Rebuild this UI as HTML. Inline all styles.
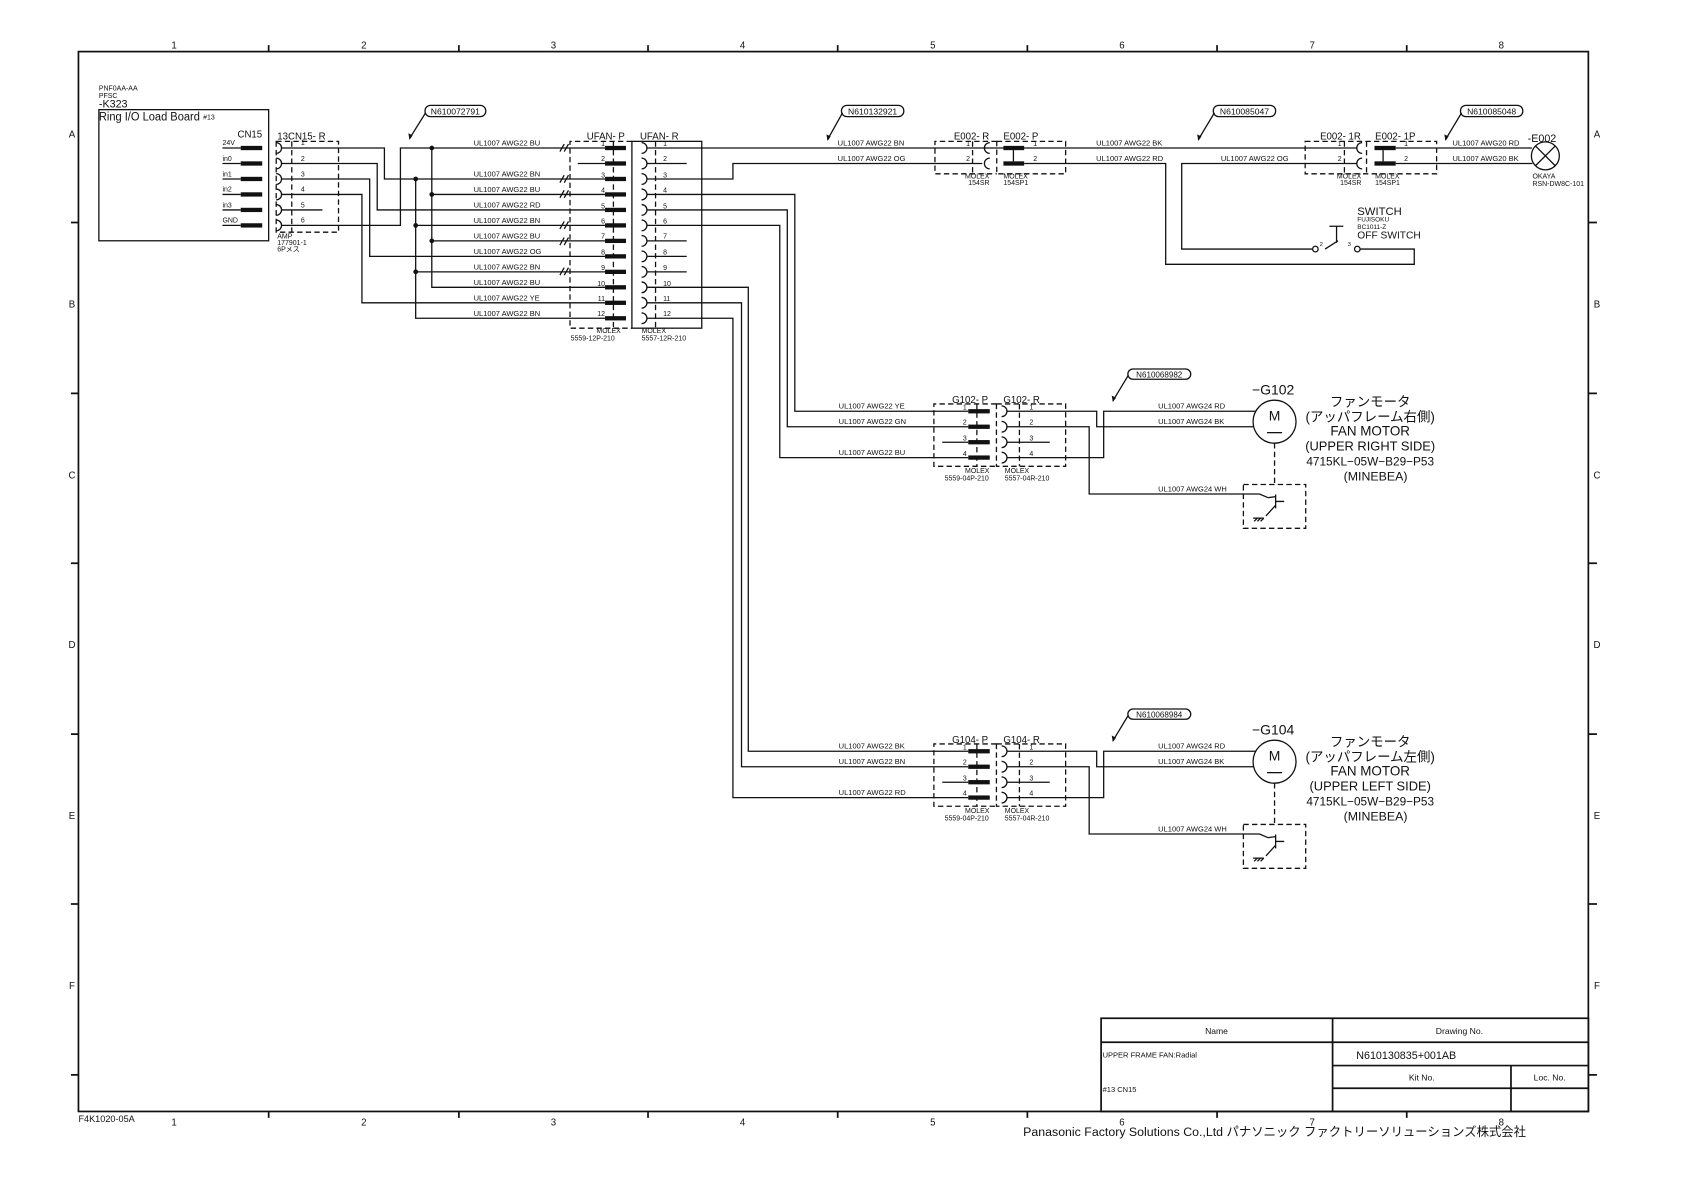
<!DOCTYPE html>
<html><head><meta charset="utf-8"><style>
html,body{margin:0;padding:0;background:#fff;}
svg{display:block;}
text{font-family:"Liberation Sans Narrow","Liberation Sans","Noto Sans CJK JP",sans-serif;fill:#111;}
.w{stroke:#111;stroke-width:1.2;fill:none;}
.d{stroke:#111;stroke-width:1.2;fill:none;stroke-dasharray:5,3;}
.f{stroke:#111;stroke-width:1.6;fill:none;}
.s{font-size:6.5px;}
.wl{font-size:7px;}
</style></head><body>
<svg width="1684" height="1191" viewBox="0 0 1567 1108" preserveAspectRatio="none" xmlns="http://www.w3.org/2000/svg">
<rect x="73" y="48" width="1405" height="986" class="f"/>
<g class="f">
<path d="M250,42V48M427,42V48M603,42V48M779.5,42V48M956,42V48M1132.5,42V48M1309,42V48"/>
<path d="M250,1034V1040M427,1034V1040M603,1034V1040M779.5,1034V1040M956,1034V1040M1132.5,1034V1040M1309,1034V1040"/>
<path d="M66,207H73M66,366H73M66,524H73M66,683H73M66,841H73M66,1000H73"/>
<path d="M1478,207H1486M1478,366H1486M1478,524H1486M1478,683H1486M1478,841H1486M1478,1000H1486"/>
</g>
<g font-size="9" text-anchor="middle">
<text x="162" y="45">1</text><text x="338.5" y="45">2</text><text x="515" y="45">3</text><text x="691" y="45">4</text><text x="868" y="45">5</text><text x="1044" y="45">6</text><text x="1221" y="45">7</text><text x="1397" y="45">8</text>
<text x="162" y="1047">1</text><text x="338.5" y="1047">2</text><text x="515" y="1047">3</text><text x="691" y="1047">4</text><text x="868" y="1047">5</text><text x="1044" y="1047">6</text><text x="1221" y="1047">7</text><text x="1397" y="1047">8</text>
<text x="67" y="128">A</text><text x="67" y="286">B</text><text x="67" y="445">C</text><text x="67" y="603">D</text><text x="67" y="762">E</text><text x="67" y="920">F</text>
<text x="1486" y="128">A</text><text x="1486" y="286">B</text><text x="1486" y="445">C</text><text x="1486" y="603">D</text><text x="1486" y="762">E</text><text x="1486" y="920">F</text>
</g>
<text x="73" y="1044" font-size="8.5">F4K1020-05A</text>

<g class="f">
<rect x="1024.6" y="947.3" width="453.4" height="86.7"/>
<path d="M1024.6,969.6H1478M1240,947.3V1034M1240,991.3H1478M1240,1012.4H1478M1406,991.3V1034"/>
</g>
<text x="1132" y="962" font-size="8" text-anchor="middle">Name</text>
<text x="1358" y="962" font-size="8" text-anchor="middle">Drawing No.</text>
<text x="1026" y="984" font-size="7">UPPER FRAME FAN:Radial</text>
<text x="1262" y="985" font-size="10">N610130835+001AB</text>
<text x="1323" y="1005" font-size="8" text-anchor="middle">Kit No.</text>
<text x="1442" y="1005" font-size="8" text-anchor="middle">Loc. No.</text>
<text x="1026" y="1016" font-size="7">#13 CN15</text>
<text x="1420" y="1057" font-size="11.5" text-anchor="end" style="font-family:'Liberation Sans','Noto Sans CJK JP',sans-serif">Panasonic Factory Solutions Co.,Ltd パナソニック ファクトリーソリューションズ株式会社</text>

<text x="92" y="84" font-size="6.5">PNF0AA-AA</text>
<text x="92" y="91" font-size="6.5">PFSC</text>
<text x="92" y="100" font-size="10">-K323</text>
<rect x="92" y="102" width="158" height="122" class="w"/>
<text x="92" y="112" font-size="11.5" textLength="94" lengthAdjust="spacingAndGlyphs">Ring I/O Load Board</text>
<text x="189" y="111" font-size="6.5">#13</text>
<text x="221" y="128" font-size="9">CN15</text>
<g class="w"><path d="M207,137.7H224M207,152.1H224M207,166.5H224M207,180.9H224M207,195.3H224M207,209.7H224"/></g>
<g fill="#111"><rect x="224" y="135.7" width="20" height="4"/><rect x="224" y="150.1" width="20" height="4"/><rect x="224" y="164.5" width="20" height="4"/><rect x="224" y="178.9" width="20" height="4"/><rect x="224" y="193.3" width="20" height="4"/><rect x="224" y="207.7" width="20" height="4"/></g>
<g class="s"><text x="207" y="135">24V</text><text x="207" y="150">in0</text><text x="207" y="164">in1</text><text x="207" y="178">in2</text><text x="207" y="193">in3</text><text x="207" y="207">GND</text></g>

<text x="258" y="130" font-size="9">13CN15- R</text>
<rect x="257" y="131.5" width="58" height="84.5" class="d"/>
<path class="d" d="M271.5,131.5V216"/>
<g class="w">
<path d="M257,132.7A5,5 0 0 1 257,142.7M257,147.1A5,5 0 0 1 257,157.1M257,161.5A5,5 0 0 1 257,171.5M257,175.9A5,5 0 0 1 257,185.9M257,190.3A5,5 0 0 1 257,200.3M257,204.7A5,5 0 0 1 257,214.7"/>
</g>
<g class="s"><text x="280" y="135">1</text><text x="280" y="150">2</text><text x="280" y="164">3</text><text x="280" y="178">4</text><text x="280" y="193">5</text><text x="280" y="207">6</text></g>
<text x="258" y="222" font-size="6.5">AMP</text><text x="258" y="228" font-size="6.5">177901-1</text><text x="258" y="234" font-size="6.5">6Pメス</text>

<g class="w">
<path d="M262,137.7H357.7V166.5H563"/>
<path d="M262,152.1H351V195.3H563"/>
<path d="M262,166.5H344V238.5H563"/>
<path d="M262,180.9H336.8V281.7H563"/>
<path d="M262,195.3H300"/>
<path d="M262,209.7H372.6V137.7H563"/>
<path d="M386.8,166.5V296.1H563M386.8,209.7H563M386.8,252.9H563"/>
<path d="M401.8,137.7V267.3H563M401.8,180.9H563M401.8,224.1H563"/>
<path d="M537.6,152.1H563"/>
<path d="M521,141l4,-7M525,141l4,-7M521,170l4,-7M525,170l4,-7M521,184l4,-7M525,184l4,-7M521,213l4,-7M525,213l4,-7M521,228l4,-7M525,228l4,-7M521,256l4,-7M525,256l4,-7"/>
</g>
<g fill="#111"><circle cx="386.8" cy="166.5" r="2.2"/><circle cx="386.8" cy="209.7" r="2.2"/><circle cx="386.8" cy="252.9" r="2.2"/><circle cx="401.8" cy="137.7" r="2.2"/><circle cx="401.8" cy="180.9" r="2.2"/><circle cx="401.8" cy="224.1" r="2.2"/></g>
<g class="wl">
<text x="440.7" y="135.5">UL1007 AWG22 BU</text>
<text x="440.7" y="164.3">UL1007 AWG22 BN</text>
<text x="440.7" y="178.7">UL1007 AWG22 BU</text>
<text x="440.7" y="193.1">UL1007 AWG22 RD</text>
<text x="440.7" y="207.5">UL1007 AWG22 BN</text>
<text x="440.7" y="221.9">UL1007 AWG22 BU</text>
<text x="440.7" y="236.3">UL1007 AWG22 OG</text>
<text x="440.7" y="250.7">UL1007 AWG22 BN</text>
<text x="440.7" y="265.1">UL1007 AWG22 BU</text>
<text x="440.7" y="279.5">UL1007 AWG22 YE</text>
<text x="440.7" y="293.9">UL1007 AWG22 BN</text>
</g>
<rect x="395.5" y="98" width="56.5" height="10.5" rx="5" class="w"/>
<text x="423.7" y="106.5" font-size="8" text-anchor="middle">N610072791</text>
<path class="w" d="M396,105L381,129"/><path d="M381,130l-1,-6l4,2z" fill="#111"/>

<text x="546" y="130" font-size="9">UFAN- P</text>
<text x="595.5" y="130" font-size="9">UFAN- R</text>
<path class="d" d="M588,131.5H530.4V305.3H588"/>
<path class="d" d="M570.8,131.5V305.3"/>
<rect x="588" y="131.5" width="65" height="173.8" class="w"/>
<path class="d" d="M610,131.5V305.3"/>
<g fill="#111">
<rect x="563" y="135.7" width="19.5" height="4"/><rect x="563" y="150.1" width="19.5" height="4"/><rect x="563" y="164.5" width="19.5" height="4"/><rect x="563" y="178.9" width="19.5" height="4"/><rect x="563" y="193.3" width="19.5" height="4"/><rect x="563" y="207.7" width="19.5" height="4"/><rect x="563" y="222.1" width="19.5" height="4"/><rect x="563" y="236.5" width="19.5" height="4"/><rect x="563" y="250.9" width="19.5" height="4"/><rect x="563" y="265.3" width="19.5" height="4"/><rect x="563" y="279.7" width="19.5" height="4"/><rect x="563" y="294.1" width="19.5" height="4"/>
</g>
<g class="s" text-anchor="end">
<text x="563" y="136">1</text><text x="563" y="150">2</text><text x="563" y="165">3</text><text x="563" y="179">4</text><text x="563" y="194">5</text><text x="563" y="208">6</text><text x="563" y="222">7</text><text x="563" y="237">8</text><text x="563" y="251">9</text><text x="563" y="266">10</text><text x="563" y="280">11</text><text x="563" y="294">12</text>
</g>
<g class="w">
<path d="M597,132.7A5,5 0 0 1 597,142.7M597,147.1A5,5 0 0 1 597,157.1M597,161.5A5,5 0 0 1 597,171.5M597,175.9A5,5 0 0 1 597,185.9M597,190.3A5,5 0 0 1 597,200.3M597,204.7A5,5 0 0 1 597,214.7M597,219.1A5,5 0 0 1 597,229.1M597,233.5A5,5 0 0 1 597,243.5M597,247.9A5,5 0 0 1 597,257.9M597,262.3A5,5 0 0 1 597,272.3M597,276.7A5,5 0 0 1 597,286.7M597,291.1A5,5 0 0 1 597,301.1"/>
</g>
<g class="s">
<text x="617" y="136">1</text><text x="617" y="150">2</text><text x="617" y="165">3</text><text x="617" y="179">4</text><text x="617" y="194">5</text><text x="617" y="208">6</text><text x="617" y="222">7</text><text x="617" y="237">8</text><text x="617" y="251">9</text><text x="617" y="266">10</text><text x="617" y="280">11</text><text x="617" y="294">12</text>
</g>
<text x="555" y="310" font-size="6.5">MOLEX</text><text x="531" y="317" font-size="6.5">5559-12P-210</text>
<text x="597" y="310" font-size="6.5">MOLEX</text><text x="597" y="317" font-size="6.5">5557-12R-210</text>

<g class="w">
<path d="M602,137.7H1214.5"/>
<path d="M602,152.1H639M602,224.1H639M602,238.5H639M602,252.9H639"/>
<path d="M602,166.5H682V152.1H870"/>
<path d="M602,180.9H739.6V382.6H901"/>
<path d="M602,195.3H732.6V397H901"/>
<path d="M602,209.7H725.6V425.7H901"/>
<path d="M602,267.3H696.3V698.9H901"/>
<path d="M602,281.7H690V713.3H901"/>
<path d="M602,296.1H682V742H901"/>
</g>
<rect x="783" y="98" width="58" height="10.5" rx="5" class="w"/>
<text x="812" y="106.5" font-size="8" text-anchor="middle">N610132921</text>
<path class="w" d="M784,105L770,130"/><path d="M770,131l-1,-6l4,2z" fill="#111"/>
<text x="779.5" y="135.5" class="wl">UL1007 AWG22 BN</text>
<text x="779.5" y="149.9" class="wl">UL1007 AWG22 OG</text>

<text x="887.6" y="130" font-size="9">E002- R</text>
<text x="933.7" y="130" font-size="9">E002- P</text>
<path class="d" d="M927.5,131.5H870V161.7H927.5"/>
<rect x="927.5" y="131.5" width="64.1" height="30.2" class="d"/>
<path class="d" d="M905,131.5V161.7"/>
<path class="w" d="M870,152.1H914M921,132.7A5,5 0 0 0 921,142.7M921,147.1A5,5 0 0 0 921,157.1"/>
<g fill="#111"><rect x="933.7" y="135.7" width="19.3" height="4"/><rect x="933.7" y="150.1" width="19.3" height="4"/></g>
<path class="w" d="M943,139.7V150.1M953,152.1H1084.7V245.9H1316V231.7H1266"/>
<text x="899" y="136" class="s">1</text><text x="899" y="150" class="s">2</text>
<text x="961.5" y="136" class="s">1</text><text x="961.5" y="150" class="s">2</text>
<text x="898" y="166" font-size="6.5">MOLEX</text><text x="901" y="172" font-size="6.5">154SR</text>
<text x="933.7" y="166" font-size="6.5">MOLEX</text><text x="933.7" y="172" font-size="6.5">154SP1</text>
<text x="1020" y="135.5" class="wl">UL1007 AWG22 BK</text>
<text x="1020" y="149.9" class="wl">UL1007 AWG22 RD</text>

<rect x="1129" y="98" width="58" height="10.5" rx="5" class="w"/>
<text x="1158" y="106.5" font-size="8" text-anchor="middle">N610085047</text>
<path class="w" d="M1130,105L1115,130"/><path d="M1115,131l-1,-6l4,2z" fill="#111"/>
<text x="1136" y="149.9" class="wl">UL1007 AWG22 OG</text>
<path class="w" d="M1214.5,152.1H1099.6V231.7H1221"/>
<circle cx="1224" cy="231.7" r="2.6" class="w"/>
<circle cx="1263" cy="231.7" r="2.6" class="w"/>
<path class="w" d="M1233,231.7L1245,224M1243.7,210.5V226M1237,210.5H1250"/>
<text x="1228" y="229" font-size="5.5">2</text><text x="1254" y="229" font-size="5.5">3</text>
<text x="1263" y="200" font-size="10.5">SWITCH</text>
<text x="1263" y="206" font-size="6">FUJISOKU</text>
<text x="1263" y="213" font-size="6">BC1011-Z</text>
<text x="1263" y="222" font-size="9.5">OFF SWITCH</text>

<text x="1228.4" y="130" font-size="9">E002- 1R</text>
<text x="1279.6" y="130" font-size="9">E002- 1P</text>
<rect x="1214.5" y="131.5" width="122.3" height="30.2" class="d"/>
<path class="d" d="M1271.6,131.5V161.7M1251,131.5V161.7"/>
<path class="w" d="M1214.5,137.7H1262.6M1214.5,152.1H1262.6M1267.5,132.7A5,5 0 0 0 1267.5,142.7M1267.5,147.1A5,5 0 0 0 1267.5,157.1"/>
<g fill="#111"><rect x="1279" y="135.7" width="19.7" height="4"/><rect x="1279" y="150.1" width="19.7" height="4"/></g>
<path class="w" d="M1287,139.7V150.1M1298.7,137.7H1425.5M1298.7,152.1H1426"/>
<text x="1244.8" y="136" class="s">1</text><text x="1244.8" y="150" class="s">2</text>
<text x="1306.6" y="136" class="s">1</text><text x="1306.6" y="150" class="s">2</text>
<text x="1244" y="166" font-size="6.5">MOLEX</text><text x="1247" y="172" font-size="6.5">154SR</text>
<text x="1279.6" y="166" font-size="6.5">MOLEX</text><text x="1279.6" y="172" font-size="6.5">154SP1</text>
<rect x="1359" y="98" width="58" height="10.5" rx="5" class="w"/>
<text x="1388" y="106.5" font-size="8" text-anchor="middle">N610085048</text>
<path class="w" d="M1360,105L1345,130"/><path d="M1345,131l-1,-6l4,2z" fill="#111"/>
<text x="1351.6" y="135.5" class="wl">UL1007 AWG20 RD</text>
<text x="1351.6" y="149.9" class="wl">UL1007 AWG20 BK</text>
<circle cx="1438" cy="145" r="13" class="w"/>
<path class="w" d="M1428.8,135.8L1447.2,154.2M1447.2,135.8L1428.8,154.2"/>
<text x="1421.5" y="132" font-size="10">-E002</text>
<text x="1426" y="166" font-size="6.5">OKAYA</text>
<text x="1426" y="173" font-size="6.5">RSN-DW8C-101</text>

<g>
<text x="780.4" y="380.1" class="wl">UL1007 AWG22 YE</text>
<text x="780.4" y="394.5" class="wl">UL1007 AWG22 GN</text>
<text x="780.4" y="423.2" class="wl">UL1007 AWG22 BU</text>
<text x="886" y="375" font-size="9">G102- P</text>
<text x="933.7" y="375" font-size="9">G102- R</text>
<path class="d" d="M927.2,375.8H869V433.8H927.2"/>
<rect x="927.2" y="375.8" width="64.4" height="58" class="d"/>
<path class="d" d="M909,375.8V433.8M948.6,375.8V433.8"/>
<g fill="#111"><rect x="901" y="380.6" width="20" height="4"/><rect x="901" y="395" width="20" height="4"/><rect x="901" y="409.4" width="20" height="4"/><rect x="901" y="423.7" width="20" height="4"/></g>
<path class="w" d="M876.8,411.4H901M932,377.6A5,5 0 0 1 932,387.6M932,392A5,5 0 0 1 932,402M932,406.4A5,5 0 0 1 932,416.4M932,420.7A5,5 0 0 1 932,430.7M937,411.4H976.8"/>
<path class="w" d="M937,382.6H1020.5V397H1166.4M937,425.7H1027V382.6H1168.3M937,397H1013.5V459.6H1172L1180,463"/>
<g class="s"><text x="896" y="381">1</text><text x="896" y="395">2</text><text x="896" y="410">3</text><text x="896" y="424">4</text>
<text x="957.9" y="381">1</text><text x="957.9" y="395">2</text><text x="957.9" y="410">3</text><text x="957.9" y="424">4</text></g>
<text x="898" y="440" font-size="6.5">MOLEX</text><text x="879" y="447" font-size="6.5">5559-04P-210</text>
<text x="935" y="440" font-size="6.5">MOLEX</text><text x="935" y="447" font-size="6.5">5557-04R-210</text>
<rect x="1049.5" y="343.3" width="58.5" height="9.5" rx="4.7" class="w"/>
<text x="1078.7" y="351" font-size="7.5" text-anchor="middle">N610068982</text>
<path class="w" d="M1050,349L1035.5,373"/><path d="M1035.5,374l-1,-6l4,2z" fill="#111"/>
<text x="1077.7" y="380.1" class="wl">UL1007 AWG24 RD</text>
<text x="1077.7" y="394.5" class="wl">UL1007 AWG24 BK</text>
<text x="1077.7" y="457.1" class="wl">UL1007 AWG24 WH</text>
<circle cx="1186" cy="392.3" r="20" class="w"/>
<text x="1186" y="391" font-size="13" text-anchor="middle">M</text>
<path class="w" d="M1179,402.5H1193"/>
<path class="d" d="M1186,412.3V450.7"/>
<rect x="1157" y="450.7" width="58" height="40.8" class="d"/>
<path class="w" d="M1187,460V473M1187,466.5H1195M1180,463L1187,462M1187,470L1178,480M1166,482H1176M1167,485l3,-3M1170,485l3,-3M1173,485l3,-3"/>
<text x="1165" y="367" font-size="13">−G102</text>
<g text-anchor="middle">
<text x="1275" y="378" font-size="12.5">ファンモータ</text>
<text x="1275" y="392" font-size="12.5">(アッパフレーム右側)</text>
<text x="1275" y="405" font-size="12.5" style="font-family:'Liberation Sans',sans-serif">FAN  MOTOR</text>
<text x="1275" y="419" font-size="12">(UPPER RIGHT SIDE)</text>
<text x="1275" y="433" font-size="11" style="font-family:'Liberation Sans',sans-serif">4715KL−05W−B29−P53</text>
<text x="1280" y="447" font-size="11.5" style="font-family:'Liberation Sans',sans-serif">(MINEBEA)</text>
</g>
</g>

<g transform="translate(0,316.3)">
<text x="780.4" y="380.1" class="wl">UL1007 AWG22 BK</text>
<text x="780.4" y="394.5" class="wl">UL1007 AWG22 BN</text>
<text x="780.4" y="423.2" class="wl">UL1007 AWG22 RD</text>
<text x="886" y="375" font-size="9">G104- P</text>
<text x="933.7" y="375" font-size="9">G104- R</text>
<path class="d" d="M927.2,375.8H869V433.8H927.2"/>
<rect x="927.2" y="375.8" width="64.4" height="58" class="d"/>
<path class="d" d="M909,375.8V433.8M948.6,375.8V433.8"/>
<g fill="#111"><rect x="901" y="380.6" width="20" height="4"/><rect x="901" y="395" width="20" height="4"/><rect x="901" y="409.4" width="20" height="4"/><rect x="901" y="423.7" width="20" height="4"/></g>
<path class="w" d="M876.8,411.4H901M932,377.6A5,5 0 0 1 932,387.6M932,392A5,5 0 0 1 932,402M932,406.4A5,5 0 0 1 932,416.4M932,420.7A5,5 0 0 1 932,430.7M937,411.4H976.8"/>
<path class="w" d="M937,382.6H1020.5V397H1166.4M937,425.7H1027V382.6H1168.3M937,397H1013.5V459.6H1172L1180,463"/>
<g class="s"><text x="896" y="381">1</text><text x="896" y="395">2</text><text x="896" y="410">3</text><text x="896" y="424">4</text>
<text x="957.9" y="381">1</text><text x="957.9" y="395">2</text><text x="957.9" y="410">3</text><text x="957.9" y="424">4</text></g>
<text x="898" y="440" font-size="6.5">MOLEX</text><text x="879" y="447" font-size="6.5">5559-04P-210</text>
<text x="935" y="440" font-size="6.5">MOLEX</text><text x="935" y="447" font-size="6.5">5557-04R-210</text>
<rect x="1049.5" y="343.3" width="58.5" height="9.5" rx="4.7" class="w"/>
<text x="1078.7" y="351" font-size="7.5" text-anchor="middle">N610068984</text>
<path class="w" d="M1050,349L1035.5,373"/><path d="M1035.5,374l-1,-6l4,2z" fill="#111"/>
<text x="1077.7" y="380.1" class="wl">UL1007 AWG24 RD</text>
<text x="1077.7" y="394.5" class="wl">UL1007 AWG24 BK</text>
<text x="1077.7" y="457.1" class="wl">UL1007 AWG24 WH</text>
<circle cx="1186" cy="392.3" r="20" class="w"/>
<text x="1186" y="391" font-size="13" text-anchor="middle">M</text>
<path class="w" d="M1179,402.5H1193"/>
<path class="d" d="M1186,412.3V450.7"/>
<rect x="1157" y="450.7" width="58" height="40.8" class="d"/>
<path class="w" d="M1187,460V473M1187,466.5H1195M1180,463L1187,462M1187,470L1178,480M1166,482H1176M1167,485l3,-3M1170,485l3,-3M1173,485l3,-3"/>
<text x="1165" y="367" font-size="13">−G104</text>
<g text-anchor="middle">
<text x="1275" y="378" font-size="12.5">ファンモータ</text>
<text x="1275" y="392" font-size="12.5">(アッパフレーム左側)</text>
<text x="1275" y="405" font-size="12.5" style="font-family:'Liberation Sans',sans-serif">FAN  MOTOR</text>
<text x="1275" y="419" font-size="12">(UPPER LEFT SIDE)</text>
<text x="1275" y="433" font-size="11" style="font-family:'Liberation Sans',sans-serif">4715KL−05W−B29−P53</text>
<text x="1280" y="447" font-size="11.5" style="font-family:'Liberation Sans',sans-serif">(MINEBEA)</text>
</g>
</g>
</svg>
</body></html>
